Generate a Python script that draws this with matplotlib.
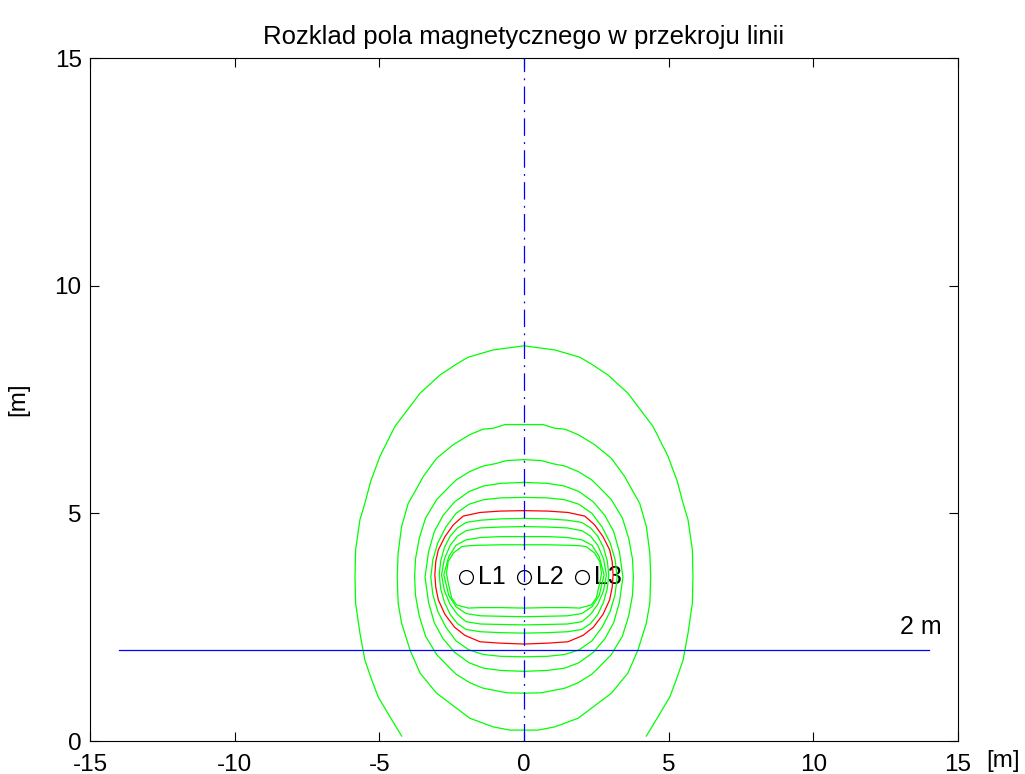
import matplotlib
matplotlib.use("Agg")
import matplotlib.pyplot as plt
import numpy as np

plt.rcParams['font.family'] = ['Liberation Sans', 'DejaVu Sans']
plt.rcParams['axes.unicode_minus'] = False

# conductors
wire_x = [-2, 0, 2]
wire_y = [3.6, 3.6, 3.6]
wire_names = ['L1', 'L2', 'L3']

# left halves of the field contours, top -> bottom
c1_x = [0, -1.06, -1.93, -2.33, -2.90, -3.59, -4.46, -4.98, -5.30, -5.50, -5.67, -5.82, -5.84, -5.82, -5.67, -5.50, -5.26, -5.04, -4.63, -4.23]
c1_y = [8.68, 8.59, 8.43, 8.28, 8.04, 7.64, 6.91, 6.25, 5.70, 5.22, 4.86, 4.20, 3.60, 3.03, 2.37, 1.78, 1.34, 0.97, 0.53, 0.11]

c2_x = [0, -0.66, -1.06, -1.41, -1.87, -2.44, -3.02, -3.48, -3.75, -4.00, -4.23, -4.35, -4.38, -4.35, -4.23, -3.94, -3.59, -3.02, -2.33, -1.87, -1.06, -0.48, 0]
c2_y = [6.95, 6.95, 6.87, 6.85, 6.73, 6.51, 6.21, 5.81, 5.50, 5.22, 4.71, 4.13, 3.60, 3.03, 2.59, 2.00, 1.49, 1.05, 0.72, 0.50, 0.31, 0.24, 0.24]

c3_x = [0, -0.60, -1.00, -1.41, -1.87, -2.33, -2.56, -3.02, -3.40, -3.62, -3.75, -3.78, -3.75, -3.62, -3.40, -3.02, -2.56, -2.33, -1.87, -1.41, -1.00, -0.60, 0]
c3_y = [6.18, 6.16, 6.09, 6.04, 5.92, 5.74, 5.60, 5.30, 4.90, 4.45, 4.00, 3.60, 3.20, 2.75, 2.30, 1.90, 1.60, 1.46, 1.28, 1.16, 1.11, 1.06, 1.05]

c4_x = [0, -0.8, -1.4, -1.9, -2.4, -2.8, -3.1, -3.3, -3.42, -3.3, -3.1, -2.8, -2.4, -1.9, -1.4, -0.8, 0]
c4_y = [5.68, 5.66, 5.60, 5.48, 5.25, 4.95, 4.60, 4.15, 3.60, 3.05, 2.60, 2.25, 1.95, 1.72, 1.60, 1.55, 1.53]

c5_x = [0, -0.8, -1.4, -1.9, -2.35, -2.7, -2.98, -3.15, -3.22, -3.15, -2.98, -2.7, -2.35, -1.9, -1.4, -0.8, 0]
c5_y = [5.35, 5.34, 5.30, 5.20, 5.00, 4.70, 4.35, 3.98, 3.60, 3.22, 2.85, 2.50, 2.20, 2.00, 1.90, 1.86, 1.85]

red_x = [0, -0.83, -1.52, -2.10, -2.44, -2.73, -2.96, -3.05, -3.08, -3.05, -2.96, -2.73, -2.40, -2.04, -1.52, -0.83, 0]
red_y = [5.06, 5.05, 5.02, 4.94, 4.75, 4.49, 4.20, 3.94, 3.65, 3.38, 3.10, 2.78, 2.50, 2.32, 2.18, 2.15, 2.13]

c7_x = [0, -0.8, -1.5, -2.0, -2.3, -2.55, -2.75, -2.88, -2.93, -2.88, -2.75, -2.55, -2.3, -2.0, -1.5, -0.8, 0]
c7_y = [4.89, 4.88, 4.85, 4.80, 4.68, 4.50, 4.25, 3.95, 3.65, 3.35, 3.05, 2.78, 2.58, 2.45, 2.40, 2.38, 2.37]

c8_x = [0, -0.8, -1.5, -2.0, -2.3, -2.55, -2.75, -2.85, -2.75, -2.55, -2.3, -2.0, -1.5, -0.8, 0]
c8_y = [4.71, 4.70, 4.68, 4.62, 4.50, 4.30, 4.00, 3.65, 3.30, 3.00, 2.78, 2.62, 2.57, 2.56, 2.55]

c9_x = [0, -0.8, -1.5, -2.0, -2.35, -2.6, -2.77, -2.6, -2.35, -2.0, -1.5, -0.8, 0]
c9_y = [4.49, 4.49, 4.47, 4.42, 4.30, 4.05, 3.65, 3.20, 2.95, 2.80, 2.75, 2.74, 2.73]

c10_x = [0, -0.8, -1.5, -1.9, -2.15, -2.44, -2.62, -2.68, -2.62, -2.5, -2.33, -1.93, -1.5, -0.8, 0]
c10_y = [4.31, 4.31, 4.30, 4.29, 4.27, 4.13, 3.94, 3.68, 3.48, 3.14, 2.99, 2.92, 2.93, 2.93, 2.92]

# 2 m reference line
ref_x = [-14, 14]
ref_y = [2, 2]


def whole(xl, yl):
    xl = np.array(xl)
    yl = np.array(yl)
    # left half goes top -> bottom, right half comes back bottom -> top
    return np.concatenate([xl, -xl[::-1]]), np.concatenate([yl, yl[::-1]])


fig = plt.figure(figsize=(10.25, 7.74), dpi=100)
ax = fig.add_axes([0.0878, 0.0426, 0.8468, 0.8824])

# outer contour is open at the bottom
x1 = np.array(c1_x)
y1 = np.array(c1_y)
ax.plot(np.concatenate([x1[::-1], -x1]), np.concatenate([y1[::-1], y1]), color='#00ff00', lw=0.9)

for xl, yl in [(c2_x, c2_y), (c3_x, c3_y), (c4_x, c4_y), (c5_x, c5_y),
               (c7_x, c7_y), (c8_x, c8_y), (c9_x, c9_y), (c10_x, c10_y)]:
    xx, yy = whole(xl, yl)
    ax.plot(xx, yy, color='#00ff00', lw=0.9)

xx, yy = whole(red_x, red_y)
ax.plot(xx, yy, color='#ff0000', lw=0.9)

# axis of the line and the 2 m level
ax.plot([0, 0], [0, 15], color='#0000ff', lw=0.9, linestyle=(0, (14, 5, 1.5, 5)))
ax.plot(ref_x, ref_y, color='#0000ff', lw=0.9)
ax.text(13, 2.5, '2 m', fontsize=18, va='center', ha='left')

ax.plot(wire_x, wire_y, 'o', mfc='none', mec='black', ms=10, mew=0.9, zorder=1)
for x, y, s in zip(wire_x, wire_y, wire_names):
    ax.text(x + 0.42, y, s, fontsize=18, va='center', ha='left', zorder=0)

ax.set_xlim(-15, 15)
ax.set_ylim(0, 15)
ax.set_xticks([-15, -10, -5, 0, 5, 10, 15])
ax.set_yticks([0, 5, 10, 15])
ax.tick_params(direction='in', length=6.5, width=0.8, top=True, right=True, labelsize=17.5)
ax.tick_params(axis='x', pad=9)
ax.tick_params(axis='y', pad=6)
for sp in ax.spines.values():
    sp.set_linewidth(0.8)
ax.text(1.033, -0.029, '[m]', transform=ax.transAxes, fontsize=17.5, ha='left', va='center')
ax.set_ylabel('[m]', fontsize=17.5, labelpad=18)
ax.set_title('Rozklad pola magnetycznego w przekroju linii', fontsize=18.5, pad=10)

fig.savefig('out.png', dpi=100)
